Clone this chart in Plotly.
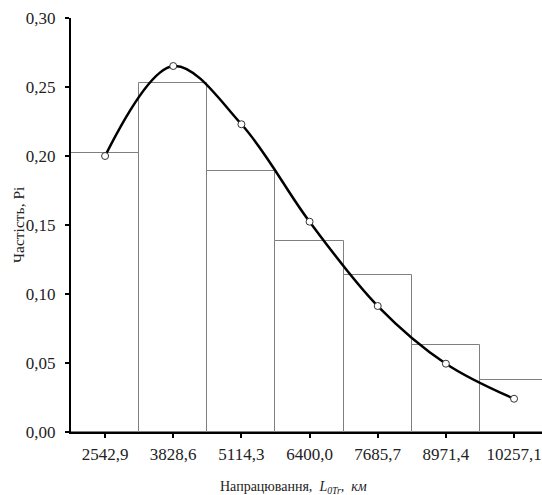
import plotly.graph_objects as go

categories = ["2542,9", "3828,6", "5114,3", "6400,0", "7685,7", "8971,4", "10257,1"]
bar_values = [0.2024, 0.2531, 0.1889, 0.1386, 0.1135, 0.0628, 0.0379]
curve_values = [0.2000, 0.2652, 0.2230, 0.1524, 0.0913, 0.0495, 0.0241]
y_ticks = [0.0, 0.05, 0.10, 0.15, 0.20, 0.25, 0.30]

x_pos = list(range(len(categories)))
font_family = "Liberation Serif"

fig = go.Figure()
fig.add_trace(go.Bar(
    x=x_pos, y=bar_values, width=1.0,
    marker=dict(color="white", line=dict(color="#7f7f7f", width=1)),
    showlegend=False, hoverinfo="skip",
))
fig.add_trace(go.Scatter(
    x=x_pos, y=curve_values, mode="lines+markers",
    line=dict(color="black", width=2.5, shape="spline", smoothing=1.0),
    marker=dict(symbol="circle", size=7, color="white",
                line=dict(color="#333333", width=1)),
    showlegend=False,
))

fig.update_layout(
    width=542, height=495,
    margin=dict(l=71, r=0, t=18, b=63),
    plot_bgcolor="white", paper_bgcolor="white",
    separators=", ",
    font=dict(family=font_family, size=17, color="#222222"),
    bargap=0,
)
fig.add_annotation(
    text="Напрацювання,  <i>L</i><sub><i>0Tr</i></sub><i>,  км</i>",
    xref="paper", yref="paper", x=(293 - 71) / 471, y=-0.135,
    xanchor="center", yanchor="middle", showarrow=False,
    font=dict(size=14),
)
fig.add_annotation(
    text="Частість, Pi",
    xref="paper", yref="paper", x=(18 - 71) / 471, y=0.5,
    xanchor="center", yanchor="middle", showarrow=False,
    textangle=-90, font=dict(size=15.5),
)
fig.update_xaxes(
    range=[-0.5, 6.41],
    tickmode="array", tickvals=x_pos, ticktext=categories,
    showline=True, linecolor="black", linewidth=2,
    ticks="outside", ticklen=4, tickwidth=2, tickcolor="black",
    showgrid=False, zeroline=False,
    tickfont=dict(size=17), ticklabelstandoff=2,
)
fig.update_yaxes(
    range=[0, 0.30],
    tickmode="array", tickvals=y_ticks, tickformat=".2f",
    showline=True, linecolor="black", linewidth=2,
    ticks="outside", ticklen=4, tickwidth=2, tickcolor="black",
    showgrid=False, zeroline=False,
    tickfont=dict(size=17), ticklabelstandoff=6,
)

fig.write_html("out.html")
